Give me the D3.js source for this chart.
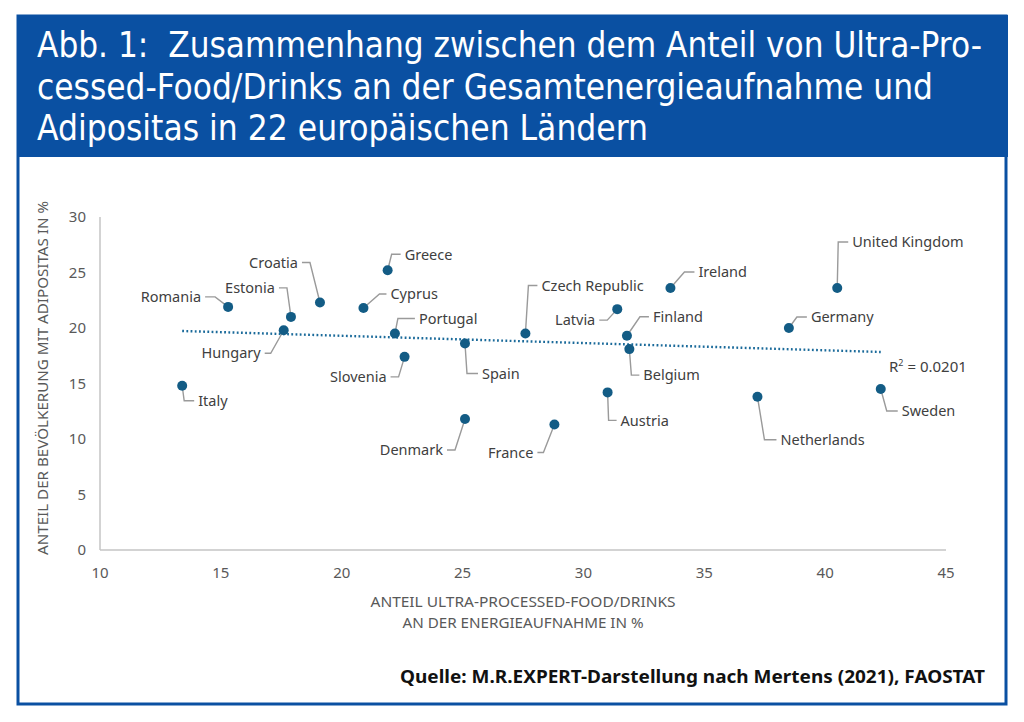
<!DOCTYPE html>
<html>
<head>
<meta charset="utf-8">
<script src="https://cdn.jsdelivr.net/npm/d3@7"></script>
<style>
  html, body { margin: 0; padding: 0; background: #fff; }
  body { overflow: hidden; }
  text { font-family: "Noto Sans", "Open Sans", sans-serif; }
  .title { font-family: "DejaVu Sans Condensed", "DejaVu Sans", sans-serif; white-space: pre; }
</style>
</head>
<body>
<script>
// chart data
const countries = ["Italy", "Romania", "Hungary", "Estonia", "Croatia", "Cyprus", "Greece",
    "Portugal", "Slovenia", "Spain", "Denmark", "Czech Republic", "France", "Austria",
    "Latvia", "Finland", "Belgium", "Ireland", "Netherlands", "Germany", "United Kingdom", "Sweden"];
const upfShare = [13.4, 15.3, 17.6, 17.9, 19.1, 20.9, 21.9, 22.2, 22.6, 25.1, 25.1, 27.6,
    28.8, 31.0, 31.4, 31.8, 31.9, 33.6, 37.2, 38.5, 40.5, 42.3];
const obesity = [14.8, 21.9, 19.8, 21.0, 22.3, 21.8, 25.2, 19.5, 17.4, 18.6, 11.8, 19.5,
    11.3, 14.2, 21.7, 19.3, 18.1, 23.6, 13.8, 20.0, 23.6, 14.5];
const trendX = [13.4, 42.3];
const trendY = [19.73, 17.84];
const rSquared = "0.0201";
const xTicks = [10, 15, 20, 25, 30, 35, 40, 45];
const yTicks = [0, 5, 10, 15, 20, 25, 30];

const titleLines = [
    "Abb. 1:  Zusammenhang zwischen dem Anteil von Ultra-Pro-",
    "cessed-Food/Drinks an der Gesamtenergieaufnahme und",
    "Adipositas in 22 europäischen Ländern"
];
const xTitle = ["ANTEIL ULTRA-PROCESSED-FOOD/DRINKS", "AN DER ENERGIEAUFNAHME IN %"];
const yTitle = "ANTEIL DER BEVÖLKERUNG MIT ADIPOSITAS IN %";
const source = "Quelle: M.R.EXPERT-Darstellung nach Mertens (2021), FAOSTAT";

// label leader layout (pixels): elbow offset from the dot, then horizontal run
const leader = {
    "Italy": [2, 15, 12], "Romania": [-13, -10, -23], "Hungary": [-13, 23, -19],
    "Estonia": [-4, -29, -12], "Croatia": [-10, -40, -18], "Cyprus": [16, -14, 23],
    "Greece": [4, -16, 13], "Portugal": [3, -15, 20], "Slovenia": [-6, 20, -14],
    "Spain": [2, 30, 13], "Denmark": [-10, 31, -18], "Czech Republic": [3, -48, 12],
    "France": [-11, 28, -17], "Austria": [1, 28, 9], "Latvia": [-10, 11, -18],
    "Finland": [13, -19, 22], "Belgium": [2, 26, 10], "Ireland": [14, -16, 24],
    "Netherlands": [7, 43, 19], "Germany": [8, -11, 18], "United Kingdom": [1, -46, 11],
    "Sweden": [6, 22, 17]
};

const W = 1024, H = 722;
const blue = "#0a50a2";
const svg = d3.select("body").append("svg")
    .attr("width", W).attr("height", H);

// frame and header
svg.append("rect")
    .attr("x", 18).attr("y", 16).attr("width", 988).attr("height", 688)
    .attr("fill", "#fff").attr("stroke", blue).attr("stroke-width", 3);
svg.append("rect")
    .attr("x", 17).attr("y", 15).attr("width", 991).attr("height", 142)
    .attr("fill", blue);

const titleWidths = [945, 896, 611];
svg.append("g").selectAll("text")
    .data(titleLines)
    .join("text")
    .attr("class", "title")
    .attr("x", 37)
    .attr("y", (d, i) => 57 + i * 41.5)
    .attr("fill", "#fff")
    .attr("font-size", 35)
    .attr("textLength", (d, i) => titleWidths[i])
    .attr("lengthAdjust", "spacingAndGlyphs")
    .text(d => d);

// plot area
const x = d3.scaleLinear().domain([10, 45]).range([100, 946]);
const y = d3.scaleLinear().domain([0, 30]).range([550, 217]);

const axisColor = "#c4c4c4", tickColor = "#595959";

svg.append("line")
    .attr("x1", x(10)).attr("x2", x(10)).attr("y1", y(30)).attr("y2", y(0))
    .attr("stroke", axisColor).attr("stroke-width", 1.5);
svg.append("line")
    .attr("x1", x(10)).attr("x2", x(45)).attr("y1", y(0)).attr("y2", y(0))
    .attr("stroke", axisColor).attr("stroke-width", 1.5);

svg.append("g").selectAll("text")
    .data(yTicks)
    .join("text")
    .attr("x", 86)
    .attr("y", d => y(d))
    .attr("dy", "0.36em")
    .attr("text-anchor", "end")
    .attr("font-size", 15)
    .attr("fill", tickColor)
    .text(d => d);

svg.append("g").selectAll("text")
    .data(xTicks)
    .join("text")
    .attr("x", d => x(d))
    .attr("y", 573)
    .attr("dy", "0.36em")
    .attr("text-anchor", "middle")
    .attr("font-size", 15)
    .attr("fill", tickColor)
    .text(d => d);

// axis titles
const xTitleWidths = [305, 241];
svg.append("g").selectAll("text")
    .data(xTitle)
    .join("text")
    .attr("x", 523)
    .attr("y", (d, i) => 602 + i * 21)
    .attr("dy", "0.36em")
    .attr("text-anchor", "middle")
    .attr("font-size", 13.5)
    .attr("fill", tickColor)
    .attr("textLength", (d, i) => xTitleWidths[i])
    .attr("lengthAdjust", "spacingAndGlyphs")
    .text(d => d);

svg.append("text")
    .attr("transform", "translate(43,378) rotate(-90)")
    .attr("dy", "0.36em")
    .attr("text-anchor", "middle")
    .attr("font-size", 13.5)
    .attr("fill", tickColor)
    .attr("textLength", 354)
    .attr("lengthAdjust", "spacingAndGlyphs")
    .text(yTitle);

// trend line
svg.append("line")
    .attr("x1", x(trendX[0])).attr("y1", y(trendY[0]))
    .attr("x2", x(trendX[1])).attr("y2", y(trendY[1]))
    .attr("stroke", "#1a6a9a")
    .attr("stroke-width", 2.4)
    .attr("stroke-dasharray", "1.8 2.4");

svg.append("text")
    .attr("x", 889).attr("y", 367)
    .attr("dy", "0.36em")
    .attr("font-size", 15)
    .attr("fill", "#404040")
    .html(`R<tspan font-size="9" dy="-6">2</tspan><tspan dy="6"> = ${rSquared}</tspan>`);

// points with leader lines and labels
const points = countries.map((c, i) => ({name: c, px: x(upfShare[i]), py: y(obesity[i])}));

svg.append("g")
    .attr("fill", "none")
    .attr("stroke", "#9a9a9a")
    .attr("stroke-width", 1.4)
    .selectAll("path")
    .data(points)
    .join("path")
    .attr("d", d => {
        const [ex, ey, hx] = leader[d.name];
        return `M${d.px},${d.py}L${d.px + ex},${d.py + ey}L${d.px + hx},${d.py + ey}`;
    });

svg.append("g").selectAll("circle")
    .data(points)
    .join("circle")
    .attr("cx", d => d.px)
    .attr("cy", d => d.py)
    .attr("r", 5)
    .attr("fill", "#135c85");

svg.append("g").selectAll("text")
    .data(points)
    .join("text")
    .attr("x", d => {
        const hx = leader[d.name][2];
        return d.px + hx + (hx > 0 ? 4 : -4);
    })
    .attr("y", d => d.py + leader[d.name][1])
    .attr("dy", "0.36em")
    .attr("text-anchor", d => leader[d.name][2] > 0 ? "start" : "end")
    .attr("font-size", 14.5)
    .attr("fill", "#404040")
    .text(d => d.name);

// source line
svg.append("text")
    .attr("x", 985).attr("y", 677)
    .attr("dy", "0.36em")
    .attr("text-anchor", "end")
    .attr("font-size", 17)
    .attr("font-weight", "bold")
    .attr("fill", "#111")
    .attr("textLength", 585)
    .attr("lengthAdjust", "spacingAndGlyphs")
    .text(source);
</script>
</body>
</html>
